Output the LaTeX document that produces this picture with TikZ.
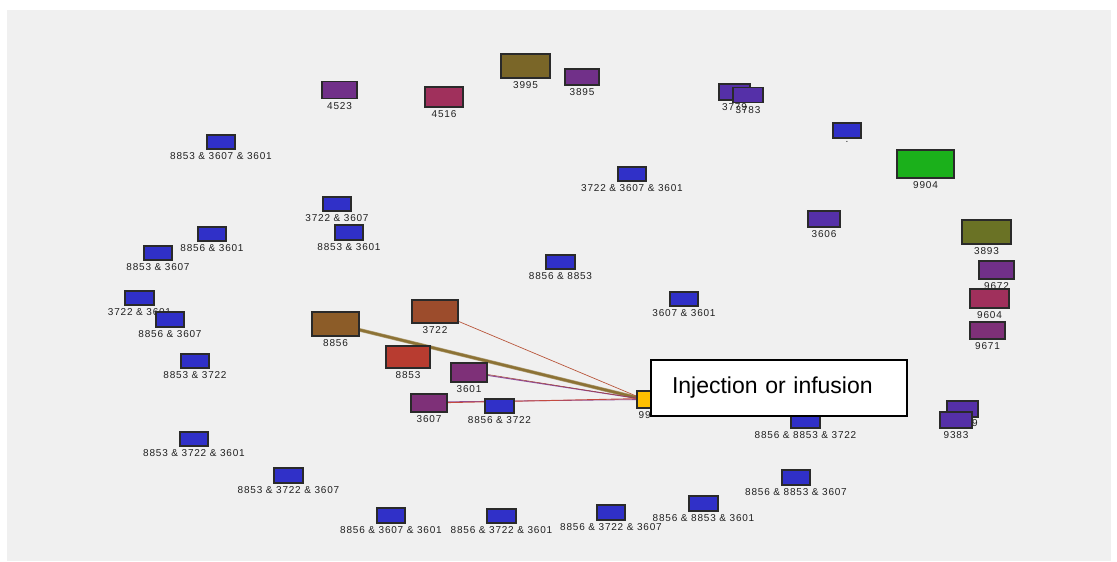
\documentclass[tikz,border=0pt]{standalone}
\usepackage{fontspec}
\setmainfont{Liberation Sans}
\pgfdeclarelayer{back}
\pgfdeclarelayer{edges}
\pgfsetlayers{back,edges,main}
\definecolor{panel}{HTML}{F0F0F0}
\definecolor{boxline}{HTML}{2A2A2A}
\definecolor{labeltext}{HTML}{202020}
\definecolor{cblue}{HTML}{3030C8}
\definecolor{cviolet}{HTML}{5530A8}
\definecolor{cpurple}{HTML}{713089}
\definecolor{cplum}{HTML}{7E3078}
\definecolor{ccrimson}{HTML}{A0305C}
\definecolor{colive}{HTML}{7A6628}
\definecolor{cmoss}{HTML}{6A7225}
\definecolor{cgreen}{HTML}{1BB01B}
\definecolor{cbrown}{HTML}{8C5C28}
\definecolor{crust}{HTML}{9C4C2C}
\definecolor{cred}{HTML}{B83C30}
\definecolor{cyellow}{HTML}{FFC000}
\definecolor{ethick}{HTML}{8C7235}
\definecolor{erust}{HTML}{B8553A}
\definecolor{epurple}{HTML}{8E4D9A}
\definecolor{ered}{HTML}{C44A40}
% box: name, x, y, width, height, fill, caption
\newcommand\gnode[7]{%
  \node[box, fill=#6, minimum width=#4pt, minimum height=#5pt] (#1) at (#2,#3) {};
  \node[lbl, anchor=north] (#1-l) at ([yshift=-3pt]#1.south) {#7};}
\begin{document}
\begin{tikzpicture}[x=1pt,y=-1pt,
  box/.style={draw=boxline, line width=1.1pt, inner sep=0pt},
  lbl/.style={font=\fontsize{10}{10}\selectfont\addfontfeatures{LetterSpace=8}, text=labeltext, inner sep=0pt},
  link/.style={line cap=round}]
\useasboundingbox (0,0) rectangle (1117,562);
\begin{pgfonlayer}{back}
  \fill[white] (0,0) rectangle (1117,562);
  \fill[panel] (7,10) rectangle (1111,561);
\end{pgfonlayer}

% upper arc
\gnode{a4523}{339.5}{90}{35}{17}{cpurple}{4523}
\gnode{a4516}{444}{97}{38}{20}{ccrimson}{4516}
\gnode{a3995}{525.5}{66}{49}{24}{colive}{3995}
\gnode{a3895}{582}{77}{34}{16}{cpurple}{3895}
\gnode{a3779}{734.5}{92}{31}{16}{cviolet}{3779}
\gnode{a3783}{748}{95}{30}{15}{cviolet}{3783}
\gnode{adot}{847}{130.5}{28}{15}{cblue}{.}
\gnode{a9904}{925.5}{164}{57}{28}{cgreen}{9904}
\gnode{a3606}{824}{219}{32}{16}{cviolet}{3606}
\gnode{a3893}{986.5}{232}{49}{24}{cmoss}{3893}
\gnode{a9672}{996.5}{270}{35}{18}{cpurple}{9672}
\gnode{a9604}{989.5}{298.5}{39}{19}{ccrimson}{9604}
\gnode{a9671}{987.5}{330.5}{35}{17}{cplum}{9671}
\node[box, fill=cviolet, minimum width=31pt, minimum height=16pt] (a9back) at (962.5,409) {};
\node[lbl, anchor=north east] (a9back-l) at (978,419.5) {9};
\gnode{a9383}{956}{420}{32}{16}{cviolet}{9383}

% left side and inner pairs
\gnode{b1}{632}{174}{28}{14}{cblue}{3722 \& 3607 \& 3601}
\gnode{b2}{221}{142}{28}{14}{cblue}{8853 \& 3607 \& 3601}
\gnode{b3}{337}{204}{28}{14}{cblue}{3722 \& 3607}
\gnode{b4}{349}{232.5}{28}{15}{cblue}{8853 \& 3601}
\gnode{b5}{212}{234}{28}{14}{cblue}{8856 \& 3601}
\gnode{b6}{158}{253}{28}{14}{cblue}{8853 \& 3607}
\gnode{b7}{139.5}{298}{29}{14}{cblue}{3722 \& 3601}
\gnode{b8}{170}{319.5}{28}{15}{cblue}{8856 \& 3607}
\gnode{b9}{560.5}{262}{29}{14}{cblue}{8856 \& 8853}
\gnode{b10}{684}{299}{28}{14}{cblue}{3607 \& 3601}
\gnode{b11}{195}{361}{28}{14}{cblue}{8853 \& 3722}
\gnode{b12}{499.5}{406}{29}{14}{cblue}{8856 \& 3722}

% single codes feeding the hub
\gnode{c8856}{335.5}{324}{47}{24}{cbrown}{8856}
\gnode{c3722}{435}{311.5}{46}{23}{crust}{3722}
\gnode{c8853}{408}{357}{44}{22}{cred}{8853}
\gnode{c3601}{469}{372.5}{36}{19}{cplum}{3601}
\gnode{c3607}{429}{403}{36}{18}{cplum}{3607}

% hub
\node[box, fill=cyellow, minimum width=15pt, minimum height=17pt] (hub) at (644.5,399.5) {};
\node[lbl, anchor=north west] (hub-l) at (638.5,411) {99};

% lower arc
\gnode{d1}{805.5}{420.5}{29}{15}{cblue}{8856 \& 8853 \& 3722}
\gnode{d2}{194}{439}{28}{14}{cblue}{8853 \& 3722 \& 3601}
\gnode{d3}{288.5}{475.5}{29}{15}{cblue}{8853 \& 3722 \& 3607}
\gnode{d4}{391}{515.5}{28}{15}{cblue}{8856 \& 3607 \& 3601}
\gnode{d5}{501.5}{516}{29}{14}{cblue}{8856 \& 3722 \& 3601}
\gnode{d6}{611}{512.5}{28}{15}{cblue}{8856 \& 3722 \& 3607}
\gnode{d7}{703.5}{503.5}{29}{15}{cblue}{8856 \& 8853 \& 3601}
\gnode{d8}{796}{477.5}{28}{15}{cblue}{8856 \& 8853 \& 3607}

% links into the hub
\begin{pgfonlayer}{edges}
  \draw[link, ethick!70!white, line width=3.6pt] (c8856.center) -- (hub.center);
  \draw[link, ethick, line width=2.4pt] (c8856.center) -- (hub.center);
  \draw[link, erust, line width=0.7pt] (c3722.center) -- (hub.center);
  \draw[link, epurple, line width=1pt] (c3601.center) -- (hub.center);
  \draw[link, ered!80!black, line width=0.5pt] ([yshift=1pt]c3601.center) -- (hub.center);
  \draw[link, epurple, line width=0.8pt] ([yshift=1pt]c3607.center) -- (hub.center);
  \draw[link, ered, line width=0.9pt] (c3607.center) -- ([yshift=1pt]hub.center);
\end{pgfonlayer}

% caption box
\node[draw=black, fill=white, line width=1.2pt, text width=214pt, inner xsep=21pt,
      minimum height=56pt, align=left, font=\fontsize{23}{23}\selectfont] (inj)
      at (779,388) {Injection or infusion};
\end{tikzpicture}
\end{document}
